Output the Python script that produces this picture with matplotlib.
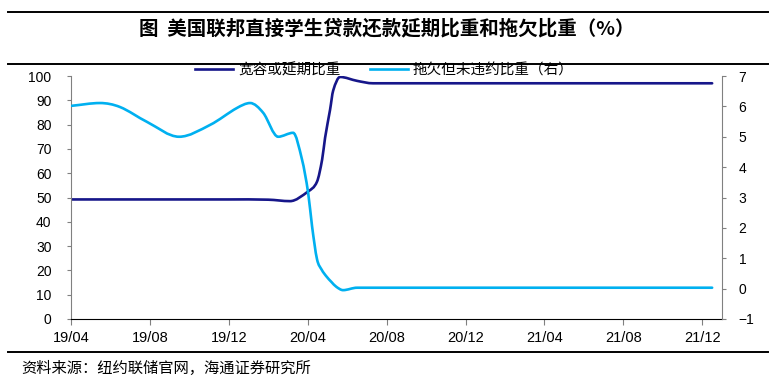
import matplotlib
matplotlib.use("Agg")
import matplotlib.pyplot as plt
from matplotlib.path import Path
from matplotlib.patches import PathPatch
from matplotlib.lines import Line2D

plt.rcParams['font.family'] = ['Liberation Sans', 'Noto Sans CJK SC', 'DejaVu Sans']
cjk = ['Noto Sans CJK SC', 'DejaVu Sans']

# months since 2019/04
tick_pos = [0, 4, 8, 12, 16, 20, 24, 28, 32]
tick_labels = ['19/04', '19/08', '19/12', '20/04', '20/08', '20/12', '21/04', '21/08', '21/12']

defer_x = [0, 4, 8, 10, 11.1, 12.02, 12.47, 12.73, 12.88, 13.13, 13.29, 13.64,
           14.5, 15.31, 18, 22, 26, 30, 32.5]
defer_y = [49.2, 49.2, 49.2, 49.1, 48.5, 52.5, 56.5, 65.6, 74.6, 86, 94, 99.6,
           98, 97.0, 97.0, 97.0, 97.0, 97.0, 97.0]

delinq_x = [0.05, 1.47, 2.48, 3.85, 5.48, 7.05, 8.42, 9.08, 9.74, 10.5, 11.26,
            11.71, 12.02, 12.22, 12.47, 12.71, 12.95, 13.2, 13.45, 13.79, 14.5,
            18, 22, 26, 30, 32.5]
delinq_y = [6.02, 6.11, 5.98, 5.49, 5.0, 5.39, 5.95, 6.11, 5.79, 5.0, 5.13,
            4.25, 3.16, 2.05, 0.97, 0.62, 0.4, 0.22, 0.06, -0.05, 0.03,
            0.03, 0.03, 0.03, 0.03, 0.03]

defer_color = '#16168a'
delinq_color = '#00b0f0'


def smooth_line(ax, xs, ys, color, lw):
    # smooth curve through the points (like excel's smoothed line)
    n = len(xs)
    slopes = []
    for i in range(n):
        if i == 0:
            s = (ys[1] - ys[0]) / (xs[1] - xs[0])
        elif i == n - 1:
            s = (ys[-1] - ys[-2]) / (xs[-1] - xs[-2])
        elif (ys[i] - ys[i - 1]) * (ys[i + 1] - ys[i]) <= 0:
            s = 0.0
        else:
            s = (ys[i + 1] - ys[i - 1]) / (xs[i + 1] - xs[i - 1])
        slopes.append(s)
    verts = [(xs[0], ys[0])]
    codes = [Path.MOVETO]
    for i in range(n - 1):
        h = xs[i + 1] - xs[i]
        verts.append((xs[i] + h / 3, ys[i] + slopes[i] * h / 3))
        verts.append((xs[i + 1] - h / 3, ys[i + 1] - slopes[i + 1] * h / 3))
        verts.append((xs[i + 1], ys[i + 1]))
        codes += [Path.CURVE4] * 3
    ax.add_patch(PathPatch(Path(verts, codes), facecolor='none', edgecolor=color,
                           lw=lw, capstyle='round', joinstyle='round'))


fig = plt.figure(figsize=(7.74, 3.87), dpi=100)
ax = fig.add_axes([71 / 774, 1 - 319 / 387, (722 - 71) / 774, (319 - 76) / 387])
ax2 = ax.twinx()

smooth_line(ax, defer_x, defer_y, defer_color, 1.9)
smooth_line(ax2, delinq_x, delinq_y, delinq_color, 1.9)

ax.set_xlim(0, 33)
ax.set_ylim(0, 100)
ax.set_yticks(range(0, 101, 10))
ax2.set_ylim(-1, 7)
ax2.set_yticks(range(-1, 8))
ax.set_xticks(tick_pos)
ax.set_xticklabels(tick_labels)

for a in (ax, ax2):
    a.spines['top'].set_visible(False)
    a.spines['left'].set_color('#808080')
    a.spines['right'].set_color('#808080')
    a.spines['bottom'].set_color('black')
ax2.spines['bottom'].set_visible(False)
ax.spines['right'].set_visible(False)
ax2.spines['left'].set_visible(False)

ax.tick_params(axis='y', direction='out', length=3, color='#808080', pad=11, labelsize=10)
ax2.tick_params(axis='y', direction='out', length=3, color='#808080', pad=9, labelsize=10)
ax.tick_params(axis='x', direction='out', length=4, color='#808080', pad=5, labelsize=10.5)

handles = [Line2D([], [], color=defer_color, lw=1.9),
           Line2D([], [], color=delinq_color, lw=1.9)]
fig.legend(handles, ['宽容或延期比重', '拖欠但未违约比重（右）'], loc='center',
           bbox_to_anchor=(0.497, 1 - 70 / 387), ncol=2, frameon=False,
           prop={'family': cjk, 'size': 10.5}, handlelength=2.6,
           handletextpad=0.35, columnspacing=2.0, borderpad=0)

fig.text(0.5, 1 - 28 / 387, '图  美国联邦直接学生贷款还款延期比重和拖欠比重（%）',
         ha='center', va='center', fontsize=14, fontweight='bold', family=cjk)
fig.text(21 / 774, 1 - 368 / 387, '资料来源：纽约联储官网，海通证券研究所',
         ha='left', va='center', fontsize=11, family=cjk)

for yy in (12, 64, 352):
    fig.add_artist(Line2D([8 / 774, 768 / 774], [1 - yy / 387, 1 - yy / 387],
                          transform=fig.transFigure, color='black', lw=1.4))

fig.savefig('out.png', dpi=100)
